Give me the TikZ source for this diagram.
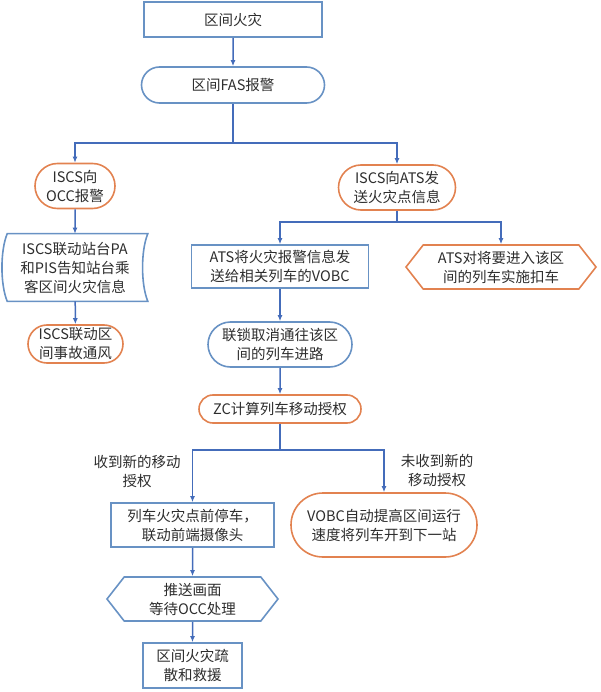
\documentclass[tikz,border=0pt]{standalone}
\usepackage{fontspec}
\setmainfont{Noto Sans CJK SC}
\usetikzlibrary{shapes.misc,shapes.symbols,arrows.meta,calc,positioning}
\definecolor{boxblue}{RGB}{104,146,196}
\definecolor{boxorange}{RGB}{226,130,80}
\definecolor{lineblue}{RGB}{68,108,186}
\definecolor{txtgray}{RGB}{45,45,45}

\begin{document}
\begin{tikzpicture}[x=1pt,y=-1pt,
    base/.style={font=\fontsize{14.5}{19}\selectfont, text=txtgray, align=center, line width=1.6pt, inner sep=1pt},
    bluebox/.style={base, draw=boxblue, rectangle},
    blueround/.style={base, draw=boxblue, rounded rectangle},
    orangeround/.style={base, draw=boxorange, rounded rectangle},
    hexbox/.style={base, signal, signal to=west and east, signal pointer angle=104},
    flow/.style={draw=lineblue, line width=1.5pt, -{Latex[length=6pt,width=5pt]}}]
    \useasboundingbox (0,0) rectangle (600,692);

    % top of the chart
    \node[bluebox, minimum width=178, minimum height=35] (fire) at (233,19.5) {区间火灾};
    \node[blueround, minimum width=185, minimum height=36] (fas) at (233,85) {区间FAS报警};

    % left branch
    \node[orangeround, minimum width=82, minimum height=45] (occ) at (75,186) {ISCS向\\OCC报警};
    \node[base, minimum width=144, minimum height=66] (pis) at (75,267.5) {ISCS联动站台PA\\和PIS告知站台乘\\客区间火灾信息};
    \draw[boxblue, line width=1.6pt] ($(pis.north west)+(5,0)$) -- (pis.north east)
        .. controls ($(pis.north east)+(-7,17)$) and ($(pis.south east)+(-7,-17)$) .. (pis.south east)
        -- ($(pis.south west)+(5,0)$)
        .. controls ($(pis.south west)+(-2,-17)$) and ($(pis.north west)+(-2,17)$) .. cycle;
    \node[orangeround, minimum width=97, minimum height=38] (vent) at (75.5,344) {ISCS联动区\\间事故通风};

    % right branch
    \node[orangeround, minimum width=119, minimum height=45] (iscsats) at (397,187.5) {ISCS向ATS发\\送火灾点信息};
    \node[bluebox, minimum width=177, minimum height=43] (atsv) at (280,266.5) {ATS将火灾报警信息发\\送给相关列车的VOBC};
    \node[hexbox, draw=boxorange, minimum width=190, minimum height=44] (hold) at (501,267) {ATS对将要进入该区\\间的列车实施扣车};
    \node[blueround, minimum width=146, minimum height=45] (lock) at (280,344.5) {联锁取消通往该区\\间的列车进路};
    \node[orangeround, minimum width=164, minimum height=28] (zc) at (280,409) {ZC计算列车移动授权};

    % movement authority
    \node[base] (lblyes) at (137,471) {收到新的移动\\授权};
    \node[base] (lblno) at (437,470) {未收到新的\\移动授权};
    \node[bluebox, minimum width=163, minimum height=44] (stop) at (192.5,525) {列车火灾点前停车，\\联动前端摄像头};
    \node[orangeround, minimum width=188, minimum height=64] (vobc) at (384,525) {VOBC自动提高区间运行\\速度将列车开到下一站};
    \node[hexbox, draw=boxblue, minimum width=171, minimum height=44] (push) at (192.5,599) {推送画面\\等待OCC处理};
    \node[bluebox, minimum width=99, minimum height=45] (evac) at (192.5,665.5) {区间火灾疏\\散和救援};

    \coordinate (split1) at (233,143);
    \coordinate (split2) at (397,222);
    \coordinate (split3) at (280,450);

    \draw[flow] (fire) -- (fas);
    \draw[flow] (fas.south) -- (split1) -| (occ.north);
    \draw[flow] (split1) -| (iscsats.north);
    \draw[flow] (occ) -- (pis);
    \draw[flow] (pis) -- (vent);
    \draw[flow] (iscsats.south) -- (split2) -| (atsv.north);
    \draw[flow] (split2) -| (hold.north);
    \draw[flow] (atsv) -- (lock);
    \draw[flow] (lock) -- (zc);
    \draw[flow] (zc.south) -- (split3) -| (stop.north);
    \draw[flow] (split3) -| (vobc.north);
    \draw[flow] (stop) -- (push);
    \draw[flow] (push) -- (evac);
\end{tikzpicture}
\end{document}
